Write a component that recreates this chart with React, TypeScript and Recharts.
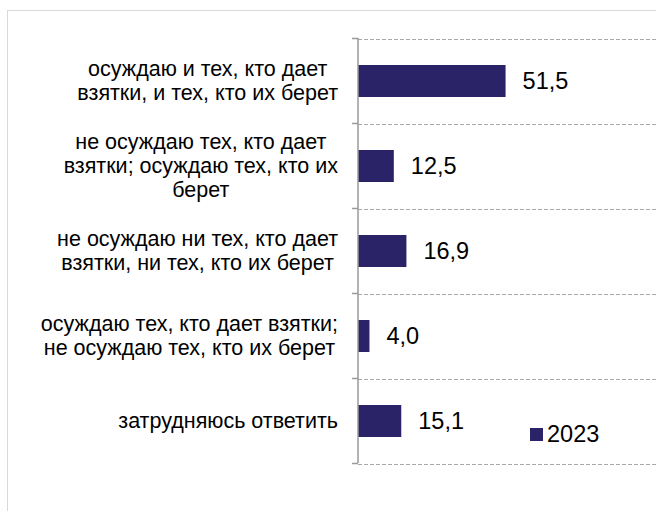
import { BarChart, Bar, XAxis, YAxis, LabelList } from 'recharts';

const categories = [
	'осуждаю и тех, кто дает\nвзятки, и тех, кто их берет',
	'не осуждаю тех, кто дает\nвзятки; осуждаю тех, кто их\nберет',
	'не осуждаю ни тех, кто дает\nвзятки, ни тех, кто их берет',
	'осуждаю тех, кто дает взятки;\nне осуждаю тех, кто их берет',
	'затрудняюсь ответить',
];
const values2023 = [51.5, 12.5, 16.9, 4.0, 15.1];
const seriesName = '2023';

const data = categories.map((name, i) => ({ name, v2023: values2023[i] }));

const FONT = '"Liberation Sans", Arial, sans-serif';
const BAR_COLOR = '#2B2368';
const WIDTH = 656;
const HEIGHT = 511;
const AXIS_X = 358;
const TOP = 38;
const BOTTOM = 48;
const BAND = (HEIGHT - TOP - BOTTOM) / categories.length;
const LABEL_RIGHT = 338;
const LABEL_SIZE = 21.5;
const LINE_H = 24;
const VALUE_SIZE = 23.5;

let ctx: CanvasRenderingContext2D | null = null;
function textWidth(s: string) {
	if (!ctx) ctx = document.createElement('canvas').getContext('2d');
	if (!ctx) return s.length * 10;
	ctx.font = `${LABEL_SIZE}px "Liberation Sans"`;
	return ctx.measureText(s).width;
}

function TickMark({ y }: { y: number }) {
	const py = Math.round(y) + 0.5;
	return <path d={`M${AXIS_X - 6},${py}H${AXIS_X}`} stroke="#9a9a9a" strokeWidth={1.5} fill="none" />;
}

function CategoryTick(props: any) {
	const { y, payload, index } = props;
	const lines: string[] = String(payload.value).split('\n');
	const maxW = Math.max(...lines.map(textWidth));
	const cx = LABEL_RIGHT - maxW / 2;
	const startY = y - ((lines.length - 1) * LINE_H) / 2;
	return (
		<g>
			<TickMark y={y - BAND / 2} />
			{index === categories.length - 1 && <TickMark y={y + BAND / 2} />}
			<text textAnchor="middle" fontFamily={FONT} fontSize={LABEL_SIZE} fill="#000">
				{lines.map((l, i) => (
					<tspan key={i} x={cx} y={startY + i * LINE_H} dy="0.36em">
						{l}
					</tspan>
				))}
			</text>
		</g>
	);
}

// bar plus the dashed grid line at the edges of its category band
function BarWithGrid(props: any) {
	const { x, y, width, height, fill, index } = props;
	const bandTop = y + height / 2 - BAND / 2;
	const gridLine = (gy: number) => (
		<line
			x1={AXIS_X}
			x2={WIDTH}
			y1={Math.round(gy) + 0.5}
			y2={Math.round(gy) + 0.5}
			stroke="#a8a8a8"
			strokeWidth={1.2}
			strokeDasharray="4 2"
		/>
	);
	return (
		<g>
			{gridLine(bandTop)}
			{index === categories.length - 1 && gridLine(bandTop + BAND)}
			<rect x={x} y={y} width={width} height={height} fill={fill} />
		</g>
	);
}

export default function App() {
	return (
		<div style={{ position: 'absolute', left: 0, top: 0, width: WIDTH, height: HEIGHT, overflow: 'hidden', background: '#fff' }}>
			<div
				style={{
					position: 'absolute',
					left: 7,
					top: 10,
					width: 680,
					height: 540,
					border: '1.5px solid #d9d9d9',
				}}
			/>
			<div style={{ position: 'absolute', left: 0, top: 0 }}>
				<BarChart
					width={WIDTH}
					height={HEIGHT}
					data={data}
					layout="vertical"
					margin={{ top: TOP, right: 0, left: 0, bottom: BOTTOM }}
				>
					<XAxis type="number" domain={[0, 104]} hide />
					<YAxis
						type="category"
						dataKey="name"
						width={AXIS_X}
						axisLine={{ stroke: '#9a9a9a', strokeWidth: 1.5 }}
						tickLine={false}
						tick={<CategoryTick />}
						interval={0}
					/>
					<Bar
						dataKey="v2023"
						name={seriesName}
						fill={BAR_COLOR}
						barSize={32}
						shape={<BarWithGrid />}
						isAnimationActive={false}
					>
						<LabelList
							dataKey="v2023"
							position="right"
							offset={17}
							fontFamily={FONT}
							fontSize={VALUE_SIZE}
							fill="#000"
							formatter={(v: any) => Number(v).toFixed(1).replace('.', ',')}
						/>
					</Bar>
				</BarChart>
			</div>
			<div
				style={{
					position: 'absolute',
					left: 530,
					top: 421,
					display: 'flex',
					alignItems: 'center',
					fontFamily: FONT,
					fontSize: VALUE_SIZE,
				}}
			>
				<span style={{ display: 'inline-block', width: 13, height: 13, background: BAR_COLOR, marginRight: 4 }} />
				<span>{seriesName}</span>
			</div>
		</div>
	);
}
